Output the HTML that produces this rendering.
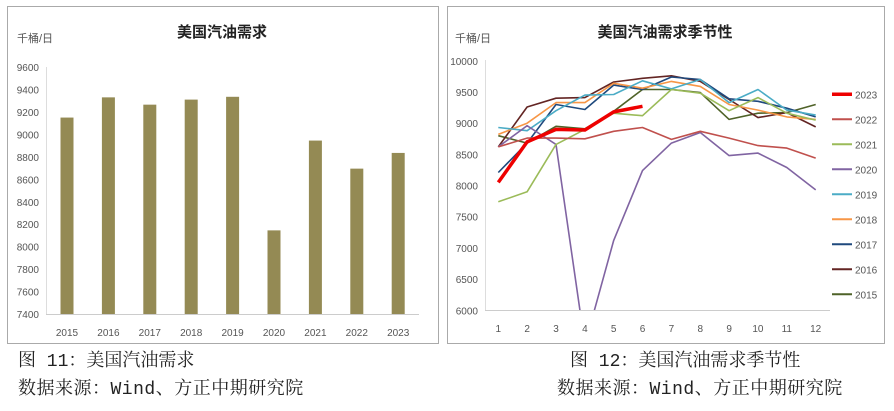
<!DOCTYPE html>
<html><head><meta charset="utf-8"><style>
body{margin:0;background:#fff;width:894px;height:411px;overflow:hidden}
svg{position:absolute;left:0;top:0}
.cap{position:absolute;font-family:"Liberation Mono","Noto Serif CJK SC",serif;font-size:18px;color:#222;white-space:nowrap;line-height:20px}
.src{letter-spacing:0.5px}
</style></head><body>
<svg id="s" width="894" height="411" xmlns="http://www.w3.org/2000/svg" font-family="Liberation Sans, Noto Sans CJK SC, sans-serif"></svg>
<div class="cap" style="left:18px;top:352px">图 11：美国汽油需求</div>
<div class="cap src" style="left:18px;top:380px">数据来源：Wind、方正中期研究院</div>
<div class="cap" style="left:570px;top:352px">图 12：美国汽油需求季节性</div>
<div class="cap src" style="left:557px;top:380px">数据来源：Wind、方正中期研究院</div>
<script>
var s='';
s+='<rect x="7.5" y="6.5" width="431" height="337" fill="none" stroke="#aaa"/>';
s+='<rect x="447.5" y="6.5" width="437" height="337" fill="none" stroke="#aaa"/>';
s+='<text x="222" y="37" text-anchor="middle" font-size="15" font-weight="bold" fill="#222">美国汽油需求</text>';
s+='<text x="17" y="42" font-size="11" fill="#555">千桶/日</text>';
function ly(v){return 314-(v-7400)/200*22.45;}
for(var v=7400;v<=9600;v+=200){s+='<text x="39" y="'+(ly(v)+4)+'" text-anchor="end" font-size="10" fill="#555">'+v+'</text>';}
s+='<line x1="46.5" y1="67" x2="46.5" y2="314" stroke="#ddd"/><line x1="46" y1="314.5" x2="419" y2="314.5" stroke="#ccc"/>';
var bars=[9150,9330,9265,9310,9335,8145,8945,8695,8835];
for(var i=0;i<9;i++){var cx=67+i*41.4;s+='<rect x="'+(cx-6.5)+'" y="'+ly(bars[i])+'" width="13" height="'+(314-ly(bars[i]))+'" fill="#948a54"/>';
s+='<text x="'+cx+'" y="336" text-anchor="middle" font-size="10" fill="#555">'+(2015+i)+'</text>';}
s+='<text x="665" y="37" text-anchor="middle" font-size="15" font-weight="bold" fill="#222">美国汽油需求季节性</text>';
s+='<text x="455" y="42" font-size="11" fill="#555">千桶/日</text>';
function ry(v){return 310.3-(v-6000)/4000*249.5;}
function rx(m){return 498.3+(m-1)*28.85;}
for(var v=6000;v<=10000;v+=500){s+='<text x="478" y="'+(ry(v)+4)+'" text-anchor="end" font-size="10" fill="#555">'+v+'</text>';}
s+='<line x1="485.5" y1="60" x2="485.5" y2="310" stroke="#ddd"/><line x1="485" y1="310.5" x2="830" y2="310.5" stroke="#ccc"/>';
for(var m=1;m<=12;m++){s+='<text x="'+rx(m)+'" y="332" text-anchor="middle" font-size="10" fill="#555">'+m+'</text>';}
var ser=[
['2015','#4f6228',[8800,8680,8950,8910,9190,9540,9540,9490,9060,9160,9170,9300]],
['2016','#632523',[8620,9260,9400,9410,9660,9720,9760,9670,9380,9090,9170,8940]],
['2017','#1f497d',[8210,8680,9300,9220,9610,9540,9740,9700,9390,9350,9240,9100]],
['2018','#f79646',[8820,9000,9330,9330,9640,9560,9670,9590,9300,9210,9100,9060]],
['2019','#4bacc6',[8930,8880,9200,9450,9460,9680,9550,9700,9330,9540,9210,9130]],
['2020','#8064a2',[8620,8960,8660,5450,7120,8240,8680,8850,8480,8520,8290,7930]],
['2021','#9bbb59',[7740,7900,8660,8900,9160,9120,9540,9480,9200,9410,9160,9050]],
['2022','#c0504d',[8620,8760,8760,8750,8870,8930,8740,8870,8760,8640,8600,8440]],
['2023','#ee0000',[8050,8700,8900,8890,9180,9270]]];
s+='<defs><clipPath id="c"><rect x="485" y="50" width="350" height="260"/></clipPath></defs>';
for(var k=0;k<ser.length;k++){var d=ser[k][2],p='';for(var i=0;i<d.length;i++)p+=(i?'L':'M')+rx(i+1).toFixed(1)+' '+ry(d[i]).toFixed(1);
s+='<path d="'+p+'" fill="none" stroke="'+ser[k][1]+'" stroke-width="'+(k==8?3.5:1.6)+'" clip-path="url(#c)" stroke-linejoin="round"/>';
var L=8-k,yy=94.3+L*25;
s+='<line x1="832" y1="'+yy+'" x2="852" y2="'+yy+'" stroke="'+ser[k][1]+'" stroke-width="'+(k==8?3.5:2)+'"/>';
s+='<text x="855" y="'+(yy+4)+'" font-size="10" fill="#555">'+ser[k][0]+'</text>';}
document.getElementById('s').innerHTML=s;
</script>
</body></html>
